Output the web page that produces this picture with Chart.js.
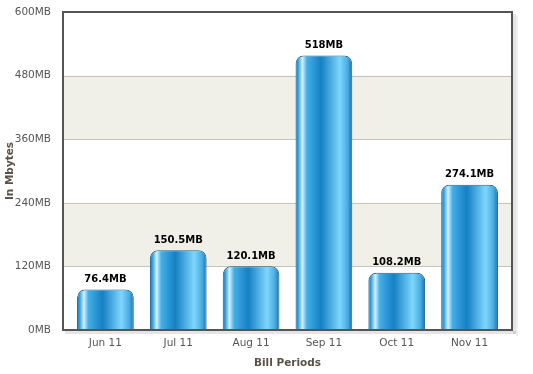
<!DOCTYPE html>
<html>
<head>
<meta charset="utf-8">
<script src="https://cdn.jsdelivr.net/npm/chart.js@4/dist/chart.umd.min.js"></script>
<style>
    html, body { margin: 0; padding: 0; background: #fff; }
    #wrap { width: 533px; height: 374px; }
</style>
</head>
<body>
<div id="wrap"><canvas id="usageChart" width="533" height="374"></canvas></div>
<script>
// chart data
const periods = ["Jun 11", "Jul 11", "Aug 11", "Sep 11", "Oct 11", "Nov 11"];
const usageMB = [76.4, 150.5, 120.1, 518, 108.2, 274.1];
const yTicks = [0, 120, 240, 360, 480, 600];
const shadedBands = [[120, 240], [360, 480]];

const FONT = "'DejaVu Sans', Verdana, sans-serif";
const CAT_PCT = 0.82;
const BAR_PCT = 0.95;
const FRAME_GAP = 6; // frame sits a little outside the bar area

// glossy cylinder gradient for each bar
function barGradient(context) {
    const chart = context.chart;
    const xScale = chart.scales.x;
    if (!xScale || !chart.chartArea) return "#2a90d0";
    const center = xScale.getPixelForValue(context.dataIndex);
    const half = (xScale.width / periods.length) * CAT_PCT * BAR_PCT / 2;
    const g = chart.ctx.createLinearGradient(center - half, 0, center + half, 0);
    g.addColorStop(0, "#1a6ea8");
    g.addColorStop(0.05, "#3aa6e0");
    g.addColorStop(0.12, "#d2f2ff");
    g.addColorStop(0.2, "#44aee6");
    g.addColorStop(0.45, "#1580c4");
    g.addColorStop(0.78, "#7ed6fc");
    g.addColorStop(0.92, "#48ace2");
    g.addColorStop(1, "#1a6ea8");
    return g;
}

// shaded bands, gridlines, frame with shadow and value labels
const decorPlugin = {
    id: "decor",
    beforeDatasetsDraw(chart) {
        const { ctx, chartArea: a, scales: { y } } = chart;
        const left = a.left - FRAME_GAP, right = a.right + FRAME_GAP;
        ctx.save();
        ctx.fillStyle = "#f0f0e8";
        shadedBands.forEach(b => {
            const top = y.getPixelForValue(b[1]);
            const bottom = y.getPixelForValue(b[0]);
            ctx.fillRect(left, top, right - left, bottom - top);
        });
        ctx.strokeStyle = "#c4c4b8";
        ctx.lineWidth = 1;
        yTicks.forEach(v => {
            const py = Math.round(y.getPixelForValue(v)) + 0.5;
            ctx.beginPath();
            ctx.moveTo(left, py);
            ctx.lineTo(right, py);
            ctx.stroke();
        });
        ctx.restore();
    },
    afterDatasetsDraw(chart) {
        const { ctx, chartArea: a } = chart;
        const left = a.left - FRAME_GAP, right = a.right + FRAME_GAP;
        ctx.save();
        // soft shadow right + bottom
        ctx.fillStyle = "rgba(0,0,0,0.10)";
        ctx.fillRect(right + 1, a.top + 2, 3, a.bottom - a.top + 2);
        ctx.fillRect(left + 2, a.bottom + 1, right - left + 2, 3);
        ctx.fillStyle = "rgba(0,0,0,0.06)";
        ctx.fillRect(right + 4, a.top + 3, 2, a.bottom - a.top + 3);
        ctx.strokeStyle = "#555555";
        ctx.lineWidth = 2;
        ctx.strokeRect(left, a.top, right - left, a.bottom - a.top);

        // value labels
        const meta = chart.getDatasetMeta(0);
        ctx.fillStyle = "#000";
        ctx.font = "bold 10px " + FONT;
        ctx.textAlign = "center";
        ctx.textBaseline = "bottom";
        meta.data.forEach((bar, i) => {
            ctx.fillText(usageMB[i] + "MB", bar.x, bar.y - 5);
        });
        ctx.restore();
    }
};

new Chart(document.getElementById("usageChart"), {
    type: "bar",
    data: {
        labels: periods,
        datasets: [{
            data: usageMB,
            backgroundColor: barGradient,
            borderColor: "#1d5f8e",
            borderWidth: 1,
            borderRadius: { topLeft: 8, topRight: 8, bottomLeft: 0, bottomRight: 0 },
            borderSkipped: "bottom",
            categoryPercentage: CAT_PCT,
            barPercentage: BAR_PCT
        }]
    },
    options: {
        responsive: false,
        animation: false,
        layout: { padding: { top: 12, right: 21 + FRAME_GAP, left: 0, bottom: 0 } },
        plugins: {
            legend: { display: false },
            tooltip: { enabled: false }
        },
        scales: {
            x: {
                afterFit: s => { s.height = 44; },
                grid: { display: false },
                border: { display: false },
                ticks: { color: "#555", font: { family: FONT, size: 10.5 }, padding: -1 },
                title: {
                    display: true,
                    text: "Bill Periods",
                    color: "#5a5246",
                    font: { family: FONT, size: 10.5, weight: "bold" },
                    padding: { top: 4, bottom: 4 }
                }
            },
            y: {
                min: 0,
                max: 600,
                afterFit: s => {
                    s.width = 63 + FRAME_GAP;
                    s.paddingTop = 0;
                    s.paddingBottom = 0;
                },
                afterBuildTicks: s => { s.ticks = yTicks.map(v => ({ value: v })); },
                grid: { display: false },
                border: { display: false },
                ticks: {
                    color: "#555",
                    font: { family: FONT, size: 10.5 },
                    padding: 4 + FRAME_GAP,
                    callback: v => v + "MB"
                },
                title: {
                    display: true,
                    text: "In Mbytes",
                    color: "#5a5246",
                    font: { family: FONT, size: 10.5, weight: "bold" },
                    padding: { top: 4, bottom: 0 }
                }
            }
        }
    },
    plugins: [decorPlugin]
});
</script>
</body>
</html>
